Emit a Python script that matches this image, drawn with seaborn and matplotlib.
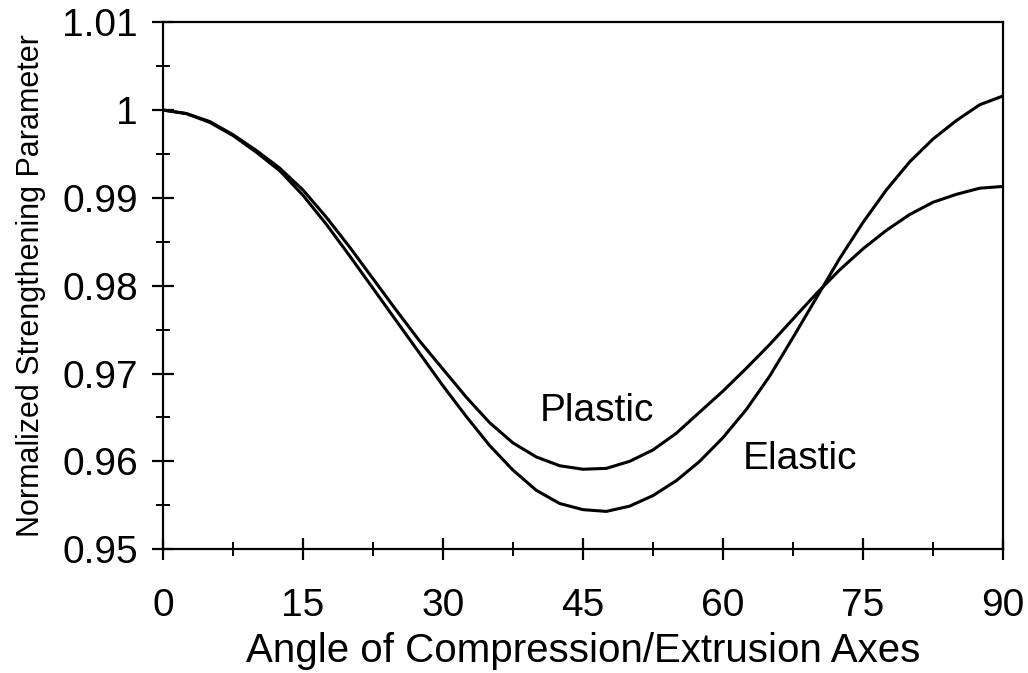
import numpy as np
import pandas as pd
import matplotlib
matplotlib.use("Agg")
import matplotlib.pyplot as plt
import seaborn as sns
from matplotlib.ticker import MultipleLocator

# angle of compression/extrusion axes (deg)
angles = [0, 2.5, 5, 7.5, 10, 12.5, 15, 17.5, 20, 22.5, 25, 27.5, 30, 32.5, 35,
          37.5, 40, 42.5, 45, 47.5, 50, 52.5, 55, 57.5, 60, 62.5, 65, 67.5, 70,
          72.5, 75, 77.5, 80, 82.5, 85, 87.5, 90]

elastic = [1.0000, 0.9996, 0.9986, 0.9971, 0.9952, 0.9931, 0.9903, 0.9870, 0.9834,
           0.9797, 0.9760, 0.9723, 0.9686, 0.9651, 0.9618, 0.9590, 0.9567, 0.9552,
           0.9545, 0.9543, 0.9549, 0.9561, 0.9578, 0.9600, 0.9627, 0.9659, 0.9697,
           0.9741, 0.9786, 0.9831, 0.9872, 0.9909, 0.9941, 0.9967, 0.9988, 1.0006,
           1.0016]

plastic = [1.0000, 0.9996, 0.9987, 0.9972, 0.9954, 0.9934, 0.9909, 0.9878, 0.9844,
           0.9808, 0.9772, 0.9737, 0.9705, 0.9673, 0.9644, 0.9621, 0.9605, 0.9595,
           0.9591, 0.9592, 0.9600, 0.9613, 0.9632, 0.9656, 0.9680, 0.9706, 0.9733,
           0.9762, 0.9791, 0.9818, 0.9842, 0.9863, 0.9881, 0.9895, 0.9904, 0.9911,
           0.9913]

sns.set_theme(style="ticks")
plt.rcParams['font.family'] = ['Liberation Sans', 'DejaVu Sans']
plt.rcParams['text.color'] = 'black'
plt.rcParams['axes.labelcolor'] = 'black'

df = pd.DataFrame({"angle": angles + angles,
                   "value": elastic + plastic,
                   "model": ["Elastic"] * len(angles) + ["Plastic"] * len(angles)})

fig = plt.figure(figsize=(10.28, 6.73), dpi=100)
ax = fig.add_axes([0.1585, 0.184, 0.8172, 0.783])

sns.lineplot(data=df, x="angle", y="value", units="model", estimator=None,
             color="black", linewidth=2.2, legend=False, ax=ax)

ax.set_xlim(0, 90)
ax.set_ylim(0.95, 1.01)
ax.xaxis.set_major_locator(MultipleLocator(15))
ax.xaxis.set_minor_locator(MultipleLocator(7.5))
ax.yaxis.set_minor_locator(MultipleLocator(0.005))
ax.set_yticks([0.95, 0.96, 0.97, 0.98, 0.99, 1.0, 1.01])
ax.set_yticklabels(["0.95", "0.96", "0.97", "0.98", "0.99", "1", "1.01"])

for s in ax.spines.values():
    s.set_linewidth(1.6)
    s.set_color("black")

ax.tick_params(which="major", direction="inout", length=16, width=1.6,
               labelsize=28, colors="black")
ax.tick_params(which="minor", direction="inout", length=10, width=1.4,
               colors="black")
ax.tick_params(axis="y", which="major", pad=10)
ax.tick_params(axis="x", which="major", pad=20)

ax.set_xlabel("Angle of Compression/Extrusion Axes", fontsize=29, labelpad=6)
ax.set_ylabel("Normalized Strengthening Parameter", fontsize=22, labelpad=12)

ax.text(46.5, 0.96462, "Plastic", fontsize=28, ha="center", va="baseline")
ax.text(68.2, 0.95915, "Elastic", fontsize=28, ha="center", va="baseline")

fig.savefig("out.png", dpi=100)
